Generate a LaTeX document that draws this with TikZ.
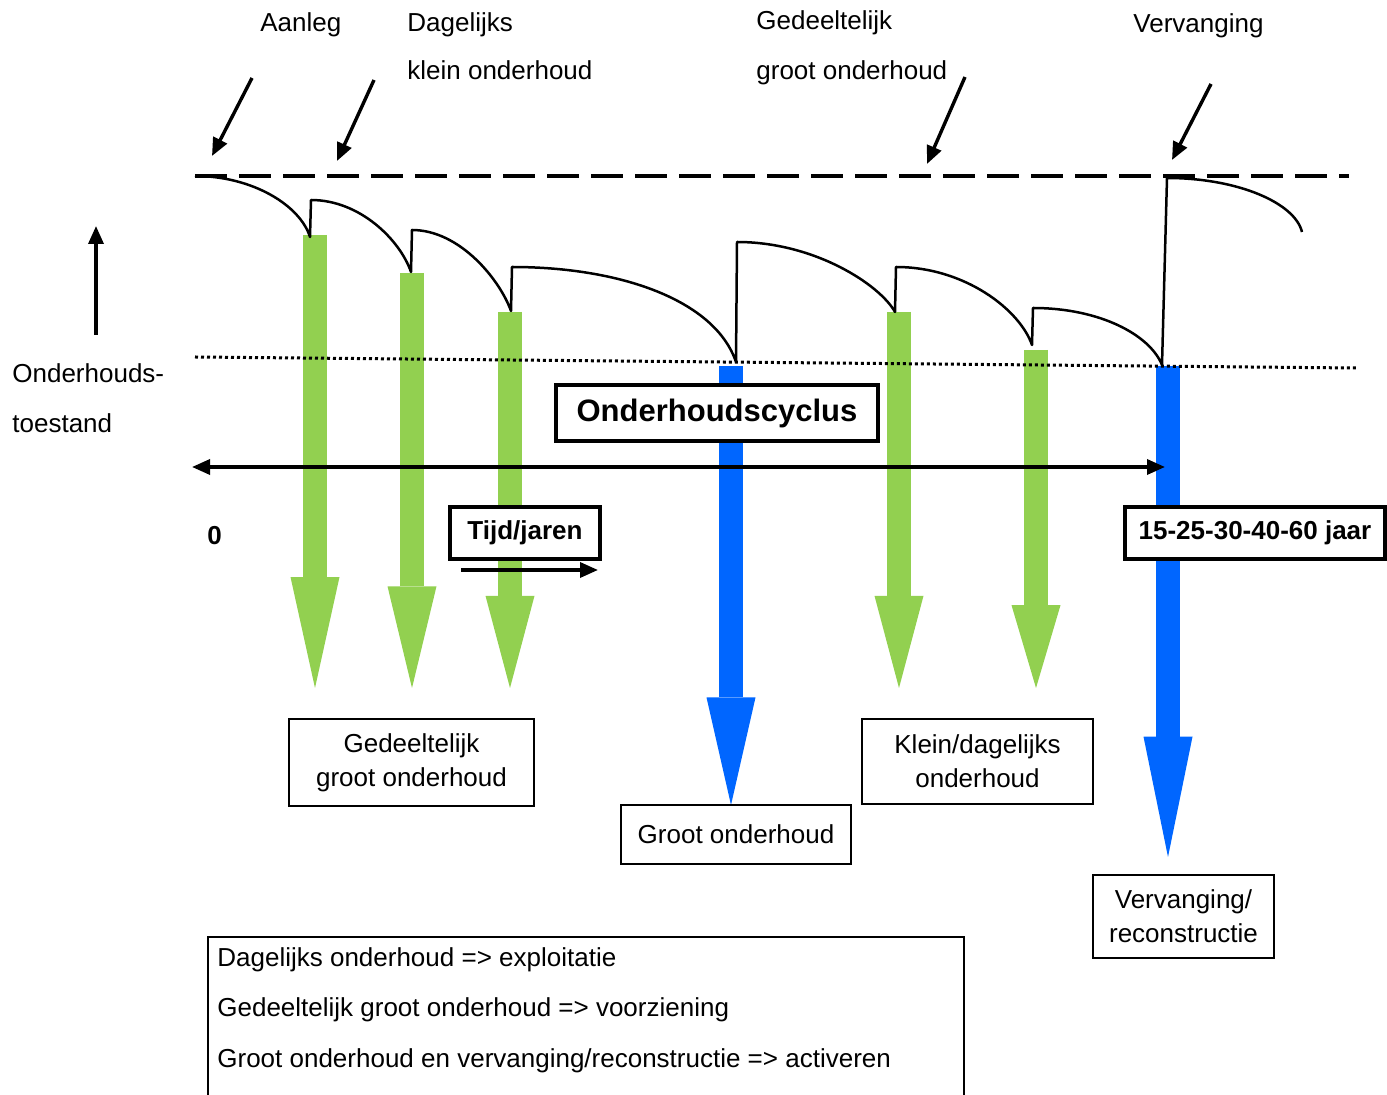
\documentclass[tikz,border=0pt]{standalone}
\usepackage{fontspec}
\setmainfont{Liberation Sans}
\usetikzlibrary{arrows.meta}
\definecolor{groenblok}{RGB}{146,208,80}
\definecolor{blauwblok}{RGB}{0,102,255}
\tikzstyle{lbl}=[inner sep=0pt,
                 font=\fontsize{13}{17}\selectfont]
\tikzstyle{kader}=[shape=rectangle,
                   draw=black,
                   line width=0.75pt,
                   fill=white,
                   align=center,
                   inner sep=0pt,
                   font=\fontsize{13}{17}\selectfont]
\tikzstyle{kopkader}=[shape=rectangle,
                      draw=black,
                      line width=1.75pt,
                      fill=white,
                      inner sep=0pt,
                      font=\bfseries\fontsize{13}{16}\selectfont]
\tikzstyle{pijl}=[line width=1.7pt, ->]
\tikzstyle{lijn}=[line width=1.25pt, line join=round]

\begin{document}
\begin{tikzpicture}[>={Triangle[length=9pt,width=7.5pt]},x=0.5pt,y=-0.5pt]
\useasboundingbox (0,0) rectangle (1387,1095);
\clip (0,0) rectangle (1387,1095);

% block arrows (green = klein/gedeeltelijk, blue = groot/vervanging)
\foreach \x/\ya/\yb/\kleur [count=\i] in {315/235/688/groenblok, 412/273/688/groenblok,
    510/312/688/groenblok, 731/366/805/blauwblok, 899/312/688/groenblok,
    1036/350/688/groenblok, 1168/366/857/blauwblok}
{
  \pgfmathsetmacro{\lengte}{0.1225*(\yb-\ya)}
  \coordinate (bar\i) at (\x,\ya);
  \coordinate (punt\i) at (\x,\yb);
  \draw[color=\kleur, line width=12pt,
        -{Triangle[length=\lengte pt, width=24.5pt, line width=0pt]}] (bar\i) -- (punt\i);
}

% reference levels
\coordinate (streep-l) at (195,176);
\coordinate (streep-r) at (1349,176);
\draw[line width=1.6pt, dash pattern=on 16pt off 6pt] (streep-l) -- (streep-r);
\coordinate (stip-l) at (195,357);
\coordinate (stip-r) at (1356,368);
\draw[line width=1.5pt, dash pattern=on 1.5pt off 1.5pt] (stip-l) -- (stip-r);

% axes
\coordinate (t0) at (192,467);
\coordinate (t1) at (1165,467);
\draw[pijl, <->] (t0) -- (t1);
\coordinate (op0) at (96,335);
\coordinate (op1) at (96,226);
\draw[pijl] (op0) -- (op1);
\coordinate (tijd0) at (461,570);
\coordinate (tijd1) at (598,570);
\draw[pijl] (tijd0) -- (tijd1);

% condition curve
\draw[lijn] (195,176) .. controls (252,176) and (300,205) .. (310,237)
  -- (311,200) .. controls (360,200) and (400,240) .. (411,272)
  -- (412,230) .. controls (460,230) and (500,280) .. (511,311)
  -- (512,267) .. controls (620,267) and (715,300) .. (736,362)
  -- (737,242) .. controls (815,242) and (880,285) .. (895,312)
  -- (896,267) .. controls (965,267) and (1020,310) .. (1032,345)
  -- (1033,308) .. controls (1100,308) and (1150,335) .. (1162,365)
  -- (1167,178) .. controls (1238,178) and (1295,203) .. (1302,232);

% bold boxes
\node[kopkader, minimum width=161pt, minimum height=28pt,
      font=\bfseries\fontsize{15.5}{18}\selectfont] (cyclus) at (717,413) {Onderhoudscyclus};
\node[kopkader, minimum width=75pt, minimum height=26pt] (tijd) at (525,533) {Tijd/jaren};
\node[kopkader, minimum width=130pt, minimum height=26pt] (jaren) at (1255,533) {15-25-30-40-60 jaar};

% boxes under the arrows
\node[kader, minimum width=122.5pt, minimum height=43.5pt] (ggo) at (411.5,762.5) {Gedeeltelijk\\groot onderhoud};
\node[kader, minimum width=115pt, minimum height=29.5pt] (go) at (736,834.5) {Groot onderhoud};
\node[kader, minimum width=115.5pt, minimum height=42.5pt] (kdo) at (977.5,761.5) {Klein/dagelijks\\onderhoud};
\node[kader, minimum width=90.5pt, minimum height=41.5pt] (vr) at (1183.5,916.5) {Vervanging/\\reconstructie};

% legend
\node[kader, anchor=north west, minimum width=378pt, minimum height=100pt] (legenda) at (207,936) {};
\node[lbl, anchor=base west] (leg1) at (217,966) {Dagelijks onderhoud => exploitatie};
\node[lbl, anchor=base west] (leg2) at ([yshift=-25pt]leg1.base west) {Gedeeltelijk groot onderhoud => voorziening};
\node[lbl, anchor=base west] (leg3) at ([yshift=-25.5pt]leg2.base west) {Groot onderhoud en vervanging/reconstructie => activeren};

% labels
\node[lbl, anchor=base west] (aanleg) at (260,32) {Aanleg};
\node[lbl, anchor=base west] (dagelijks) at (407,32) {Dagelijks};
\node[lbl, anchor=base west] (klein) at ([yshift=-24pt]dagelijks.base west) {klein onderhoud};
\node[lbl, anchor=base west] (gedeeltelijk) at (756,30) {Gedeeltelijk};
\node[lbl, anchor=base west] (groot) at ([yshift=-25pt]gedeeltelijk.base west) {groot onderhoud};
\node[lbl, anchor=base west] (vervanging) at (1133,33) {Vervanging};
\node[lbl, anchor=base west] (onderhouds) at (12,383) {Onderhouds-};
\node[lbl, anchor=base west] (toestand) at ([yshift=-25pt]onderhouds.base west) {toestand};
\node[lbl, anchor=base west, font=\bfseries\fontsize{13}{16}\selectfont] (nul) at (207,545) {0};

% arrows to the top level
\coordinate (aanleg-s) at (252,78);
\coordinate (aanleg-e) at (212,156);
\coordinate (dagelijks-s) at (374,80);
\coordinate (dagelijks-e) at (337,161);
\coordinate (groot-s) at (965,77);
\coordinate (groot-e) at (927,164);
\coordinate (vervanging-s) at (1211,84);
\coordinate (vervanging-e) at (1172,160);
\path[pijl] (aanleg-s) edge (aanleg-e)
            (dagelijks-s) edge (dagelijks-e)
            (groot-s) edge (groot-e)
            (vervanging-s) edge (vervanging-e);

\end{tikzpicture}
\end{document}
